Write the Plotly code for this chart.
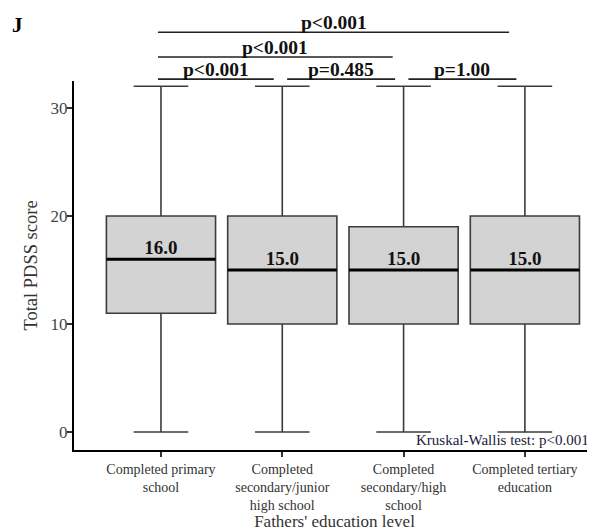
import plotly.graph_objects as go

categories = ["Completed primary<br>school",
              "Completed<br>secondary/junior<br>high school",
              "Completed<br>secondary/high<br>school",
              "Completed tertiary<br>education"]
lower_whisker = [0, 0, 0, 0]
q1 = [11, 10, 10, 10]
median = [16, 15, 15, 15]
q3 = [20, 20, 19, 20]
upper_whisker = [32, 32, 32, 32]
median_labels = ["16.0", "15.0", "15.0", "15.0"]
y_ticks = [0, 10, 20, 30]

# pairwise comparisons: (group a, group b, label, row)
comparisons = [(0, 1, "p<0.001", 0), (1, 2, "p=0.485", 0), (2, 3, "p=1.00", 0),
               (0, 2, "p<0.001", 1), (0, 3, "p<0.001", 2)]
overall_test = "Kruskal-Wallis test: p<0.001"

FONT = "Liberation Serif"
xs = list(range(len(categories)))
BOXW = 0.9
XR = [-0.717, 3.578]


def xpaper(v):
    return (v - XR[0]) / (XR[1] - XR[0])


fig = go.Figure()
fig.add_trace(go.Box(
    x=xs, q1=q1, median=median, q3=q3,
    lowerfence=lower_whisker, upperfence=upper_whisker,
    width=BOXW, whiskerwidth=0.5,
    fillcolor="#d3d3d3", line=dict(color="#3c3c3c", width=1.6),
    boxpoints=False, showlegend=False, hoverinfo="skip",
))

# thicker median lines
for i in xs:
    fig.add_trace(go.Scatter(
        x=[i - BOXW / 2, i + BOXW / 2], y=[median[i], median[i]],
        mode="lines", line=dict(color="black", width=3),
        showlegend=False, hoverinfo="skip"))

fig.add_trace(go.Scatter(
    x=xs, y=median, mode="text", text=median_labels,
    textposition="top center",
    textfont=dict(family=FONT, size=19, color="#111111", weight="bold"),
    showlegend=False, hoverinfo="skip"))

# significance brackets (above the plot area, paper coordinates)
row_y = [1.005, 1.065, 1.132]
for a, b, lab, row in comparisons:
    if row == 0:
        x0 = a + (-0.025 if a == 0 else 0.04)
        x1 = b - 0.07
    else:
        x0 = a - 0.025
        x1 = b - 0.09 if row == 1 else b - 0.13
    p0, p1 = xpaper(x0), xpaper(x1)
    fig.add_shape(type="line", xref="paper", yref="paper", x0=p0, x1=p1,
                  y0=row_y[row], y1=row_y[row],
                  line=dict(color="#222222", width=1.6))
    fig.add_annotation(x=(p0 + p1) / 2, y=row_y[row], xref="paper", yref="paper",
                       xanchor="center", yanchor="bottom", yshift=-3,
                       text=lab, showarrow=False,
                       font=dict(family=FONT, size=19.5, color="#111111", weight="bold"))

fig.add_annotation(x=1, y=0, xref="paper", yref="paper", xanchor="right",
                   yanchor="bottom", xshift=-4, yshift=0,
                   text=overall_test, showarrow=False,
                   font=dict(family=FONT, size=15, color="#1a1a3a"))

fig.add_annotation(x=-0.109, y=1.151, xref="paper", yref="paper",
                   xanchor="center", yanchor="middle",
                   text="J", showarrow=False,
                   font=dict(family=FONT, size=21, color="black", weight="bold"))

fig.update_layout(
    width=587, height=523,
    margin=dict(l=66, r=0, t=73, b=79),
    paper_bgcolor="white", plot_bgcolor="white",
    font=dict(family=FONT, color="#333333"),
    xaxis=dict(range=XR, tickvals=xs, ticktext=categories,
               showline=True, linecolor="black", linewidth=2,
               ticks="outside", ticklen=5, tickwidth=1.5, tickcolor="#333333",
               showgrid=False, zeroline=False,
               tickfont=dict(family=FONT, size=14, color="#333333"),
               title=dict(text="Fathers' education level", standoff=6,
                          font=dict(family=FONT, size=17, color="#333333"))),
    yaxis=dict(range=[-1.66, 32.49], tickvals=y_ticks,
               showline=True, linecolor="black", linewidth=2,
               ticks="outside", ticklen=5, tickwidth=1.5, tickcolor="#333333",
               ticklabelstandoff=-4,
               showgrid=False, zeroline=False,
               tickfont=dict(family=FONT, size=17, color="#444444"),
               title=dict(text="Total PDSS score", standoff=8,
                          font=dict(family=FONT, size=18.5, color="#333333"))),
)

fig.write_html("out.html")
